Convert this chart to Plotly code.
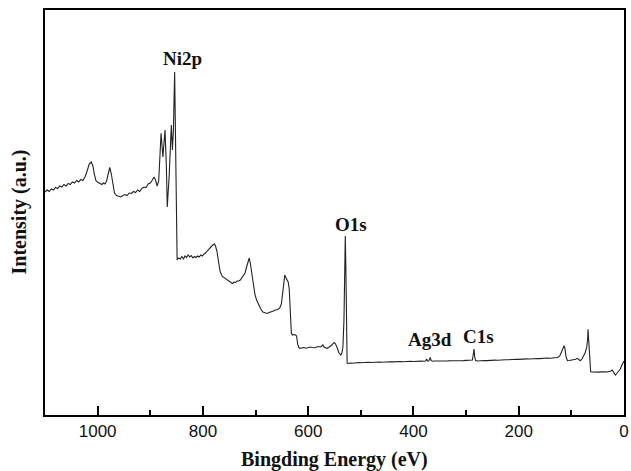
import numpy as np
import plotly.graph_objects as go

# Binding energy (eV) and intensity (a.u.)
energy = [1100, 1096, 1092, 1088, 1084, 1080, 1076, 1072, 1068, 1064, 1060, 1056, 1052, 1048, 1044,
          1040, 1036, 1032, 1028, 1024, 1020, 1016, 1012, 1009, 1006, 1003, 999, 995, 992, 989,
          986, 983, 980, 977, 974, 971, 968, 964, 960, 956, 952, 948, 944, 940, 936,
          932, 928, 924, 920, 916, 912, 908, 904, 900, 896, 893, 890, 887, 884, 881,
          879.5, 876, 872, 869.5, 867.7, 864, 860, 858, 856, 853.7, 851.5, 849, 846, 843, 840,
          837, 834, 831, 828, 825, 822, 819, 816, 813, 810, 807, 804, 801, 798, 795,
          792, 789, 786, 783, 780, 778, 776, 773, 770, 767, 763, 759, 755, 751, 747,
          744, 741, 738, 735, 732, 729, 726, 723, 720, 717, 714, 712, 710, 707, 704,
          701, 698, 694, 690, 686, 682, 678, 674, 670, 666, 662, 658, 654, 651, 648,
          646, 644.5, 642, 640, 638, 636, 634, 632, 630, 627, 624, 622, 620, 618, 616,
          612, 608, 604, 600, 596, 592, 588, 584, 580, 576, 574, 572, 570, 567, 564,
          561, 558, 555, 552, 550, 548, 546, 544, 542, 540, 538, 536, 534, 532, 530.5,
          529.5, 528.5, 527.5, 526, 523, 520, 516, 512, 508, 504, 500, 495, 490, 485, 480,
          475, 470, 465, 460, 455, 450, 445, 440, 435, 430, 425, 420, 415, 410, 405,
          400, 395, 390, 385, 380, 377, 375, 373.5, 371, 369, 368, 366.5, 364, 360, 355,
          350, 345, 340, 335, 330, 325, 320, 315, 310, 305, 300, 295, 290, 288, 286.5,
          285, 283.5, 282, 279, 275, 270, 265, 260, 255, 250, 245, 240, 235, 230, 225,
          220, 215, 210, 205, 200, 195, 190, 185, 180, 175, 170, 165, 160, 155, 150,
          145, 140, 135, 130, 126, 122, 119, 116, 114, 112, 110, 107.3, 104, 100, 96,
          92, 89, 86, 83, 80, 77, 74, 71, 69, 68.4, 67, 65, 63.3, 60, 56,
          52, 48, 44, 40, 36, 32, 28, 25, 22.4, 20, 18, 16.2, 13, 10, 7,
          4, 2, 0]

intensity = [223, 225, 223.5, 226, 225, 227.5, 226.5, 229, 228, 230.5, 229, 231.5, 230.5, 233, 232,
             234.5, 233, 235.5, 234.5, 238, 244, 251, 253, 249, 240, 234, 232.5, 231, 230.5, 232,
             231, 234, 240, 247.5, 241, 229, 222, 219.5, 218.5, 218, 219.5, 220.5, 219.5, 222, 221.5,
             223.5, 222.5, 225, 223.5, 226.5, 228, 227.5, 231, 232, 235, 238, 235, 229, 234, 270,
             281.7, 258, 285, 250, 208, 240, 290, 265, 285, 343, 250, 155, 157, 156, 158.5,
             156, 159, 157.5, 160, 158, 159.5, 157, 158.5, 157.5, 159, 158, 160, 159, 161, 162,
             164, 166, 168, 169, 170.5, 171, 169, 163, 152, 143, 138.5, 137, 135, 133.5, 132,
             131.5, 133, 132.5, 134, 134, 135, 137, 139, 142, 148, 155, 157, 152, 140, 128,
             120, 115, 110, 106, 103, 102, 101.5, 102.5, 103, 104, 105, 105.5, 107, 111, 124,
             135, 140, 137, 134, 133, 126, 105, 82, 80, 80.5, 80, 79, 71, 67.5, 66.7,
             67, 67.5, 66.8, 67.2, 68, 67.5, 67.3, 68, 68.5, 68, 69, 70, 68, 67, 66.7,
             67.5, 68.5, 70, 72, 72.3, 71, 69, 66, 62.5, 60.5, 60, 62, 68, 95, 150,
             179, 150, 90, 52, 51.5, 52, 51.8, 52.2, 52, 52.5, 52.3, 52.6, 52.4, 52.8, 52.5,
             52.9, 52.7, 53, 52.8, 53.1, 53, 53.3, 53.1, 53.4, 53.2, 53.5, 53.3, 53.6, 53.4, 53.7,
             53.5, 53.8, 53.6, 53.9, 53.7, 54, 56, 54, 54, 56, 57.5, 54.5, 53.8, 54, 53.9,
             54.1, 54, 54.2, 54.1, 54.3, 54.2, 54.4, 54.3, 54.5, 54.4, 54.6, 54.5, 54.7, 55, 60,
             66, 58, 54.5, 54, 54.3, 54.2, 54.5, 54.4, 54.7, 54.6, 54.9, 54.8, 55.1, 55, 55.3,
             55.2, 55.5, 55.4, 55.7, 55.6, 55.9, 55.8, 56.1, 56, 56.3, 56.2, 56.5, 56.4, 56.8, 56.6,
             57, 56.8, 57.2, 57, 57.5, 59, 62, 66.5, 69.3, 66, 58, 54.3, 54.5, 54.8, 55.2,
             55.8, 56.7, 55.5, 54.3, 56, 59, 62, 67, 76, 85.7, 75, 55, 43.3, 43, 42.8,
             43.2, 42.9, 43.1, 42.8, 43.2, 43, 43.4, 44, 45, 43, 41, 40, 42, 44, 46,
             50, 52, 54]

peak_labels = ["Ni2p", "O1s", "Ag3d", "C1s"]
peak_energy = [853.7, 529.5, 368, 285]
label_shift_x = [8, 6, 0, 5]
label_shift_y = [14, 12, 18, 13]

x_tickvals = [0, 200, 400, 600, 800, 1000]
x_ticktext = ["0", "200", "400", "600", "800", "1000"]

fig = go.Figure()
fig.add_trace(go.Scatter(x=energy, y=intensity, mode="lines",
                         line=dict(color="#222222", width=1.1), showlegend=False))

e_sorted = np.array(energy[::-1], dtype=float)
i_sorted = np.array(intensity[::-1], dtype=float)
for lab, pe, sx, sy in zip(peak_labels, peak_energy, label_shift_x, label_shift_y):
    py = float(np.interp(pe, e_sorted, i_sorted))
    fig.add_annotation(x=pe, y=py, text="<b>" + lab + "</b>", showarrow=False,
                       xanchor="center", yanchor="middle", xshift=sx, yshift=sy,
                       font=dict(family="Liberation Serif", size=19, color="#111111"))

title_font = dict(family="Liberation Serif", size=20, color="#111111")
fig.add_annotation(x=0.5, y=0, xref="paper", yref="paper", text="<b>Bingding Energy (eV)</b>",
                   showarrow=False, xanchor="center", yanchor="middle", yshift=-44, font=title_font)
fig.add_annotation(x=0, y=0.5, xref="paper", yref="paper", text="<b>Intensity (a.u.)</b>",
                   showarrow=False, xanchor="center", yanchor="middle", xshift=-26, textangle=-90,
                   font=title_font)

fig.update_layout(
    width=631, height=471,
    margin=dict(l=45, r=2, t=10, b=56),
    paper_bgcolor="white", plot_bgcolor="white",
    xaxis=dict(range=[1100, 0], tickvals=x_tickvals, ticktext=x_ticktext,
               ticks="inside", ticklen=9, tickwidth=1.5, tickcolor="black",
               ticklabeloverflow="allow",
               minor=dict(tickvals=[100, 300, 500, 700, 900], ticks="inside", ticklen=5,
                          tickwidth=1.5, tickcolor="black"),
               showline=True, mirror=True, linewidth=2, linecolor="black",
               showgrid=False, zeroline=False,
               tickfont=dict(family="Liberation Sans", size=17, color="#111111")),
    yaxis=dict(range=[0, 405], showticklabels=False, ticks="",
               showline=True, mirror=True, linewidth=2, linecolor="black",
               showgrid=False, zeroline=False),
)

fig.write_html("out.html", config={"displayModeBar": False},
               post_script="document.body.style.margin='0';document.body.style.overflow='hidden';")
